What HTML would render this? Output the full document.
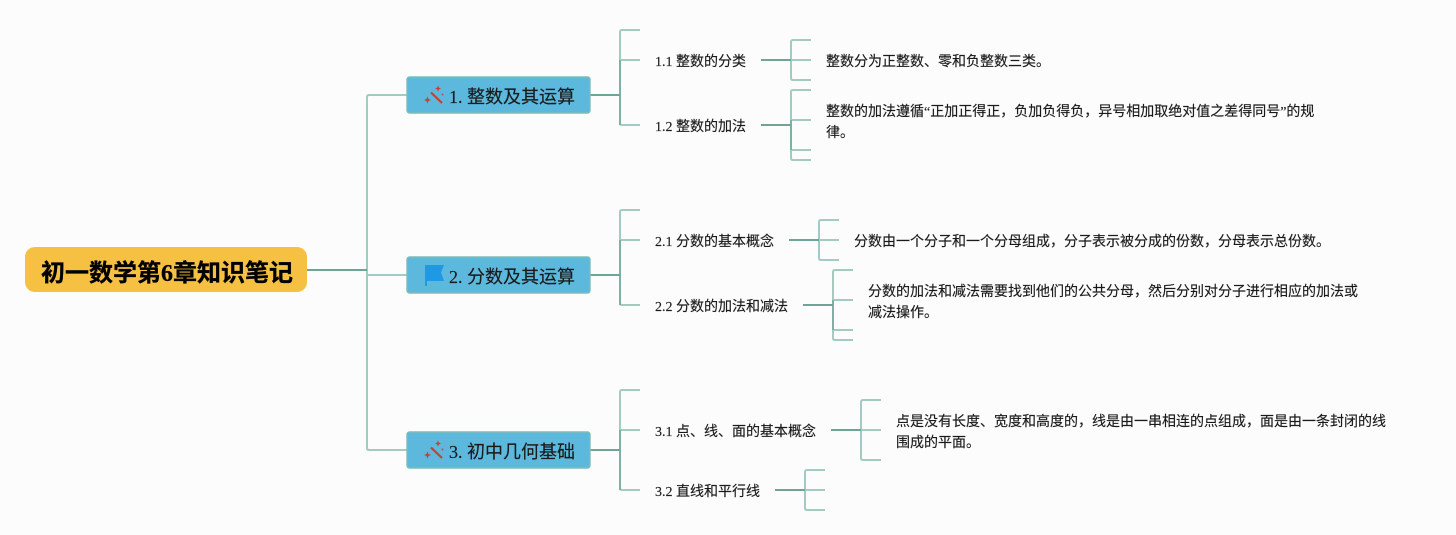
<!DOCTYPE html>
<html lang="zh">
<head>
<meta charset="utf-8">
<title>初一数学第6章知识笔记</title>
<style>
html,body{margin:0;padding:0;background:#fcfcfc;width:1456px;height:535px;overflow:hidden}
svg{display:block}
text{font-family:"Liberation Serif","Noto Sans CJK SC","WenQuanYi Zen Hei",sans-serif;fill:#1a1a1a;stroke:#1a1a1a;stroke-width:.15}
.s{font-size:14px}
.t{font-size:18px}
.r{font-size:24px;font-weight:bold;fill:#000;stroke:#000;stroke-width:.3}
.l{fill:none;stroke:#a3cbc0;stroke-width:2}
.d{fill:none;stroke:#6ea596;stroke-width:2}
.m{fill:none;stroke:#7fb0a3;stroke-width:2}
</style>
</head>
<body>
<svg width="1456" height="535" viewBox="0 0 1456 535" xmlns="http://www.w3.org/2000/svg">
<rect width="1456" height="535" fill="#fcfcfc"/>

<!-- root connectors -->
<path class="l" d="M407 95H369Q367 95 367 97V448Q367 450 369 450H407"/>
<path class="l" d="M367 275H407"/>
<path class="d" d="M307 270H367"/>

<!-- branch 1 -->
<path class="l" d="M640 30H622Q620 30 620 32V123Q620 125 622 125H640"/>
<path class="l" d="M620 60H640"/>
<path class="m" d="M620 60V125"/>
<path class="d" d="M590 95H620"/>
<path class="l" d="M811 40H793Q791 40 791 42V78Q791 80 793 80H811M791 60H811"/>
<path class="d" d="M761 60H791"/>
<path class="l" d="M811 90H793Q791 90 791 92V158Q791 160 793 160H811M791 120H811M791 150H811"/>
<path class="m" d="M791 120V150"/>
<path class="d" d="M761 125H791"/>

<!-- branch 2 -->
<path class="l" d="M640 210H622Q620 210 620 212V303Q620 305 622 305H640"/>
<path class="l" d="M620 240H640"/>
<path class="m" d="M620 240V305"/>
<path class="d" d="M590 275H620"/>
<path class="l" d="M839 220H821Q819 220 819 222V258Q819 260 821 260H839M819 240H839"/>
<path class="d" d="M789 240H819"/>
<path class="l" d="M853 270H835Q833 270 833 272V338Q833 340 835 340H853M833 300H853M833 330H853"/>
<path class="m" d="M833 300V330"/>
<path class="d" d="M803 305H833"/>

<!-- branch 3 -->
<path class="l" d="M640 390H622Q620 390 620 392V488Q620 490 622 490H640"/>
<path class="l" d="M620 430H640"/>
<path class="m" d="M620 430V490"/>
<path class="d" d="M590 450H620"/>
<path class="l" d="M881 400H863Q861 400 861 402V458Q861 460 863 460H881M861 430H881"/>
<path class="d" d="M831 430H861"/>
<path class="l" d="M825 470H807Q805 470 805 472V508Q805 510 807 510H825M805 490H825"/>
<path class="d" d="M775 490H805"/>

<!-- root -->
<rect x="25" y="247" width="282" height="45" rx="10" fill="#f6c143"/>
<text class="r" x="41" y="281">初一数学第6章知识笔记</text>

<!-- topics -->
<rect x="407" y="77" width="183" height="36" rx="2.5" fill="#5cb8dc" stroke="#7fbcb8" stroke-width="1.4"/>
<rect x="407" y="257" width="183" height="36" rx="2.5" fill="#5cb8dc" stroke="#7fbcb8" stroke-width="1.4"/>
<rect x="407" y="432" width="183" height="36" rx="2.5" fill="#5cb8dc" stroke="#7fbcb8" stroke-width="1.4"/>

<!-- wand icons -->
<g fill="#c8402f" stroke="none">
<path d="M431 92.500L442 103" stroke="#c8402f" stroke-width="2.200" fill="none"/>
<path d="M438 85.500l.9 2.100 2.100.9-2.100.9-.9 2.100-.9-2.100-2.100-.9 2.100-.9z"/>
<path d="M427.500 96.500l1 2.500 2.500 1-2.500 1-1 2.500-1-2.500-2.500-1 2.500-1z"/>
<circle cx="442.500" cy="94.500" r="1" fill="#b5544c"/>
</g>
<g transform="translate(0 355)" fill="#c8402f" stroke="none">
<path d="M431 92.500L442 103" stroke="#c8402f" stroke-width="2.200" fill="none"/>
<path d="M438 85.500l.9 2.100 2.100.9-2.100.9-.9 2.100-.9-2.100-2.100-.9 2.100-.9z"/>
<path d="M427.500 96.500l1 2.500 2.500 1-2.500 1-1 2.500-1-2.500-2.500-1 2.500-1z"/>
<circle cx="442.500" cy="94.500" r="1" fill="#b5544c"/>
</g>
<!-- flag icon -->
<path d="M425 265H444L441 272.500L444 281H427V286H425Z" fill="#1f9ae2"/>

<text class="t" x="449" y="103">1. 整数及其运算</text>
<text class="t" x="449" y="283">2. 分数及其运算</text>
<text class="t" x="449" y="458">3. 初中几何基础</text>

<!-- sub topics -->
<text class="s" x="655" y="66">1.1 整数的分类</text>
<text class="s" x="655" y="131">1.2 整数的加法</text>
<text class="s" x="655" y="246">2.1 分数的基本概念</text>
<text class="s" x="655" y="311">2.2 分数的加法和减法</text>
<text class="s" x="655" y="436">3.1 点、线、面的基本概念</text>
<text class="s" x="655" y="496">3.2 直线和平行线</text>

<!-- leaves -->
<text class="s" x="826" y="66">整数分为正整数、零和负整数三类。</text>
<text class="s" x="826" y="116">整数的加法遵循“正加正得正，负加负得负，异号相加取绝对值之差得同号”的规</text>
<text class="s" x="826" y="137">律。</text>
<text class="s" x="854" y="246">分数由一个分子和一个分母组成，分子表示被分成的份数，分母表示总份数。</text>
<text class="s" x="868" y="296">分数的加法和减法需要找到他们的公共分母，然后分别对分子进行相应的加法或</text>
<text class="s" x="868" y="317">减法操作。</text>
<text class="s" x="896" y="426">点是没有长度、宽度和高度的，线是由一串相连的点组成，面是由一条封闭的线</text>
<text class="s" x="896" y="447">围成的平面。</text>
</svg>
</body>
</html>
